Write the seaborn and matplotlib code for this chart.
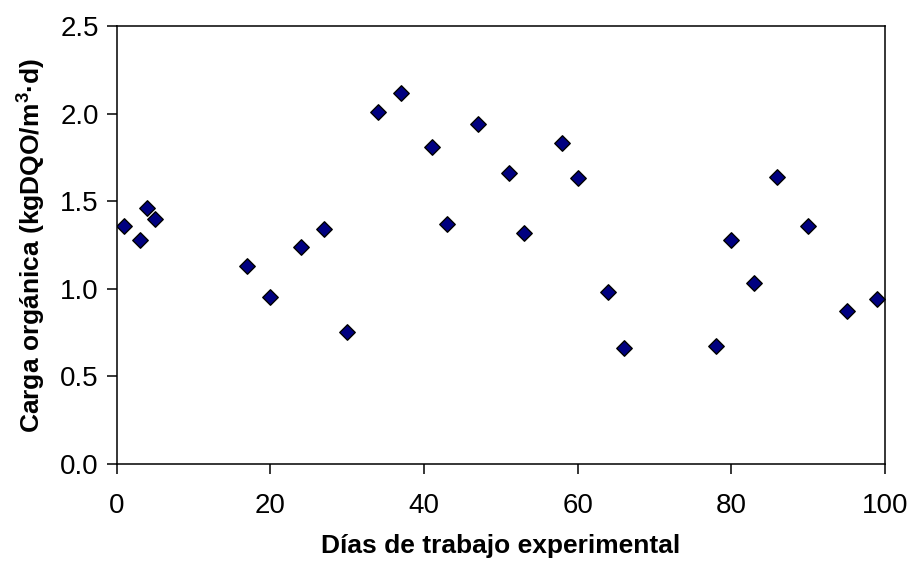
import seaborn as sns
import matplotlib
matplotlib.use("Agg")
import matplotlib.pyplot as plt
import pandas as pd

# días y carga orgánica
dias = [1, 3, 4, 5, 17, 20, 24, 27, 30, 34, 37, 41, 43, 47, 51, 53, 58, 60,
        64, 66, 78, 80, 83, 86, 90, 95, 99]
carga = [1.36, 1.28, 1.46, 1.40, 1.13, 0.95, 1.24, 1.34, 0.75, 2.01, 2.12,
         1.81, 1.37, 1.94, 1.66, 1.32, 1.83, 1.63, 0.98, 0.66, 0.67, 1.28,
         1.03, 1.64, 1.36, 0.87, 0.94]

x_ticks = [0, 20, 40, 60, 80, 100]
y_ticks = [0.0, 0.5, 1.0, 1.5, 2.0, 2.5]

df = pd.DataFrame({"dias": dias, "carga": carga})

sns.set_style("white")
plt.rcParams["font.family"] = ["Liberation Sans", "DejaVu Sans"]
plt.rcParams["mathtext.default"] = "regular"
plt.rcParams["text.color"] = "black"
plt.rcParams["axes.labelcolor"] = "black"

fig = plt.figure(figsize=(9.07, 5.65), dpi=100)
ax = fig.add_axes([0.1287, 0.1793, 0.8471, 0.7747])

sns.scatterplot(data=df, x="dias", y="carga", ax=ax,
                marker="D", s=62, color="#000080",
                edgecolor="black", linewidth=1.0, legend=False)

ax.set_xlim(0, 100)
ax.set_ylim(0, 2.5)
ax.set_xticks(x_ticks)
ax.set_yticks(y_ticks)
ax.set_yticklabels([f"{v:.1f}" for v in y_ticks])

for side in ["left", "bottom", "top", "right"]:
    ax.spines[side].set_color("black")
    ax.spines[side].set_linewidth(1.1)

ax.tick_params(axis="both", which="major", bottom=True, left=True,
               direction="out", length=7, width=1.1,
               labelsize=20, color="black", labelcolor="black")
ax.tick_params(axis="y", pad=6)
ax.tick_params(axis="x", pad=14)

ax.set_xlabel("Días de trabajo experimental", fontsize=19,
              fontweight="bold", labelpad=11)
ax.set_ylabel("Carga orgánica (kgDQO/m$^{3}$·d)", fontsize=19,
              fontweight="bold", labelpad=9)

fig.savefig("out.png", dpi=100)
